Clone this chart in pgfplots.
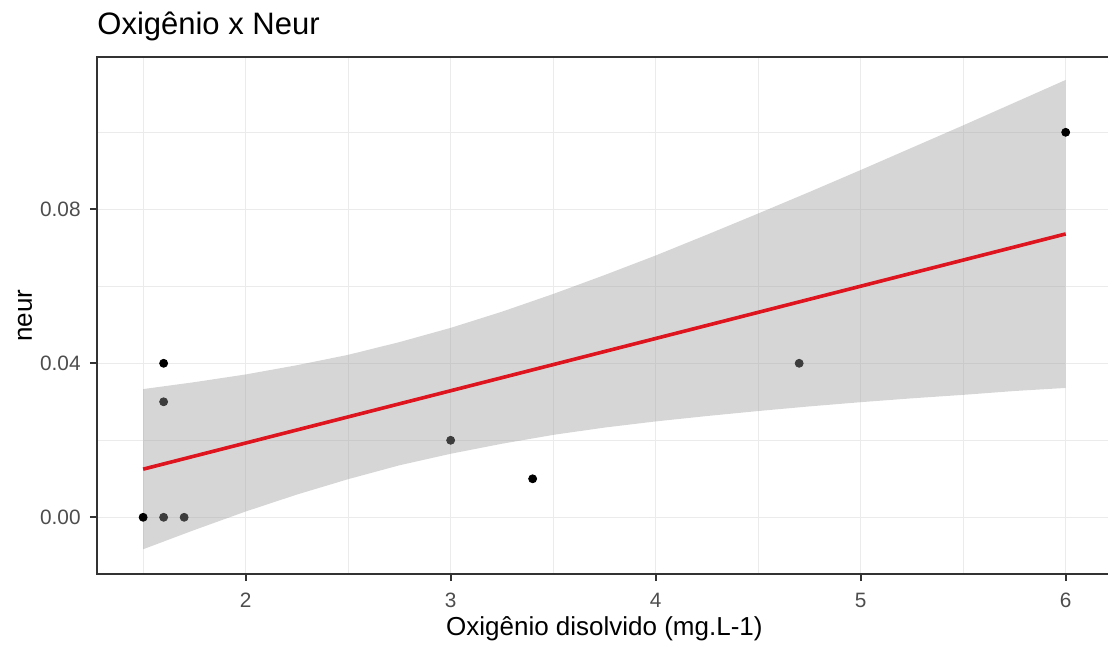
\documentclass[border=0pt]{standalone}
\usepackage{fontspec}
\setmainfont{Liberation Sans}
\usepackage{pgfplots}
\pgfplotsset{compat=1.18}

\definecolor{gridgray}{HTML}{EBEBEB}
\definecolor{framegray}{HTML}{333333}
\definecolor{ticktext}{HTML}{4D4D4D}
\definecolor{bandgray}{HTML}{999999}
\definecolor{underband}{HTML}{3D3D3D}
\definecolor{fitred}{RGB}{222,20,30}

\begin{document}
\begin{tikzpicture}
\useasboundingbox (0,0) rectangle (554pt,324pt);
\begin{axis}[
    at={(48.5pt,37pt)}, anchor=south west,
    scale only axis,
    width=507.4pt, height=258.5pt,
    xmin=1.275, xmax=6.225,
    ymin=-0.01473, ymax=0.11956,
    xtick={2,3,4,5,6},
    ytick={0,0.04,0.08},
    minor xtick={1.5,2.5,3.5,4.5,5.5},
    minor ytick={0.02,0.06,0.10},
    grid=both,
    major grid style={gridgray, line width=0.6pt},
    minor grid style={gridgray, line width=0.35pt},
    xtick pos=bottom, ytick pos=left,
    tick align=outside,
    major tick length=3.5pt, minor tick length=0pt,
    tick style={framegray, line width=0.9pt},
    axis line style={framegray, line width=0.9pt},
    /pgf/number format/assume math mode=true,
    yticklabel={\pgfmathprintnumber[fixed,fixed zerofill,precision=2]{\tick}},
    xticklabel style={font=\fontsize{10.4}{12}\selectfont, text=ticktext,
        inner sep=0pt, anchor=north, yshift=-6pt},
    yticklabel style={font=\fontsize{10.4}{12}\selectfont, text=ticktext,
        inner sep=0pt, anchor=east, xshift=-4.5pt},
    xlabel={Oxigênio disolvido (mg.L-1)},
    ylabel={neur},
    xlabel style={font=\fontsize{13}{15.6}\selectfont, inner sep=0pt,
        at={(axis description cs:0.5,0)}, anchor=base, yshift=-30.5pt},
    ylabel style={font=\fontsize{13}{15.6}\selectfont, inner sep=0pt,
        at={(axis description cs:-0.0641,0.5)}, anchor=base, rotate=0},
    title={Oxigênio x Neur},
    title style={font=\fontsize{15.5}{18.6}\selectfont, inner sep=0pt,
        at={(axis description cs:0,1)}, anchor=base west, yshift=5pt},
]
% points outside the band
\addplot[only marks, mark=*, mark size=2pt, black] coordinates {
    (1.5,0) (1.6,0.04) (3.4,0.01) (6.0,0.10)
};
% points seen through the band
\addplot[only marks, mark=*, mark size=2pt, underband] coordinates {
    (1.6,0) (1.7,0) (1.6,0.03) (3.0,0.02) (4.7,0.04)
};
\addplot[draw=none, fill=bandgray, fill opacity=0.4] coordinates {
    (1.50,0.0333) (1.75,0.0351) (2.00,0.0371) (2.25,0.0395) (2.50,0.0422)
    (2.75,0.0455) (3.00,0.0492) (3.25,0.0534) (3.50,0.0580) (3.75,0.0629)
    (4.00,0.0680) (4.25,0.0734) (4.50,0.0789) (4.75,0.0845) (5.00,0.0902)
    (5.25,0.0960) (5.50,0.1018) (5.75,0.1077) (6.00,0.1136)
    (6.00,0.0336) (5.75,0.0328) (5.50,0.0318) (5.25,0.0309) (5.00,0.0299)
    (4.75,0.0288) (4.50,0.0276) (4.25,0.0263) (4.00,0.0249) (3.75,0.0233)
    (3.50,0.0214) (3.25,0.0191) (3.00,0.0165) (2.75,0.0135) (2.50,0.0099)
    (2.25,0.0059) (2.00,0.0015) (1.75,-0.0033) (1.50,-0.0083)
} -- cycle;
\addplot[fitred, line width=1.8pt] coordinates {
    (1.5,0.0125) (6.0,0.0736)
};
\end{axis}
\end{tikzpicture}
\end{document}
